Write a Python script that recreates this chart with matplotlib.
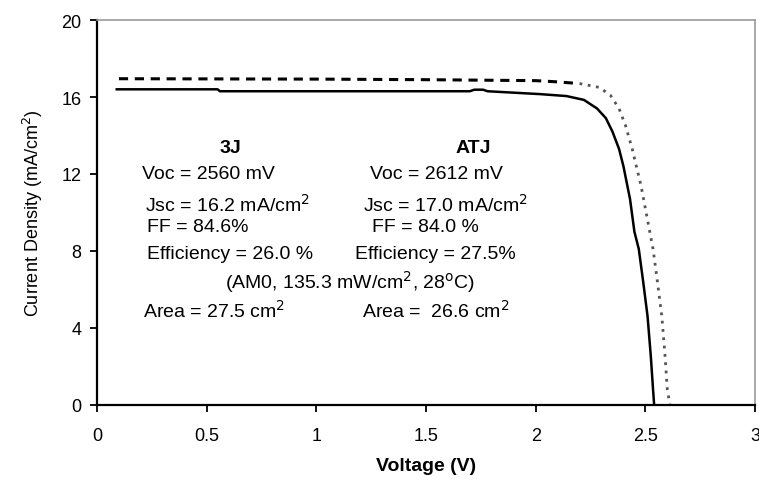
import matplotlib

matplotlib.use("Agg")
import matplotlib.pyplot as plt

plt.rcParams["font.family"] = ["Liberation Sans", "DejaVu Sans"]

# --- data ---
v_3j = [0.09, 0.55, 0.56, 1.70, 1.72, 1.76, 1.78, 2.02, 2.14, 2.22, 2.28, 2.32,
        2.35, 2.38, 2.40, 2.43, 2.45, 2.47, 2.49, 2.51, 2.525, 2.535, 2.54]
j_3j = [16.40, 16.40, 16.30, 16.30, 16.38, 16.38, 16.30, 16.15, 16.05, 15.85,
        15.40, 14.90, 14.20, 13.30, 12.40, 10.70, 9.00, 8.10, 6.40, 4.60, 2.50, 0.8, 0.0]

v_atj = [0.10, 1.00, 1.50, 2.00, 2.08, 2.20, 2.29, 2.34, 2.38, 2.41, 2.44, 2.48,
         2.52, 2.535, 2.555, 2.575, 2.59, 2.60, 2.612]
j_atj = [16.95, 16.93, 16.90, 16.85, 16.80, 16.70, 16.50, 16.10, 15.40, 14.50,
         13.30, 11.40, 9.00, 8.10, 6.40, 4.60, 2.50, 0.8, 0.0]

x_ticks = [0, 0.5, 1, 1.5, 2, 2.5, 3]
y_ticks = [0, 4, 8, 12, 16, 20]

rows_3j = ["Voc = 2560 mV", "Jsc = 16.2 mA/cm$^2$", "FF = 84.6%",
           "Efficiency = 26.0 %"]
rows_atj = ["Voc = 2612 mV", "Jsc = 17.0 mA/cm$^2$", "FF = 84.0 %",
            "Efficiency = 27.5%"]
condition = "(AM0, 135.3 mW/cm$^2$, 28$^{\\rm o}$C)"
area_3j = "Area = 27.5 cm$^2$"
area_atj = "Area =  26.6 cm$^2$"

fig = plt.figure(figsize=(7.59, 4.81), dpi=100)
ax = fig.add_axes([0.1278, 0.156, 0.867, 0.8003])

ax.plot(v_3j, j_3j, color="black", lw=1.8)

# ATJ: dashed on the plateau, dotted grey on the drop
knee = 5
ax.plot(v_atj[:knee + 1], j_atj[:knee + 1], color="black", lw=2.2,
        linestyle=(0, (3, 2.2)))
ax.plot(v_atj[knee:], j_atj[knee:], color="#555555", lw=2.0,
        linestyle=(0, (1, 2)))

ax.set_xlim(0, 3)
ax.set_ylim(0, 20)
ax.set_xticks(x_ticks)
ax.set_xticklabels(["0", "0.5", "1", "1.5", "2", "2.5", "3"])
ax.set_yticks(y_ticks)
ax.tick_params(direction="out", length=5, width=1.3, labelsize=13,
               colors="black")
ax.tick_params(axis="x", pad=11)
ax.tick_params(axis="y", pad=6)

for side in ["left", "bottom"]:
    ax.spines[side].set_linewidth(1.6)
    ax.spines[side].set_color("black")
for side in ["top", "right"]:
    ax.spines[side].set_linewidth(1.2)
    ax.spines[side].set_color("#999999")

ax.set_xlabel("Voltage (V)", fontsize=14, fontweight="bold", labelpad=9)
ax.set_ylabel("Current Density (mA/cm$^2$)", fontsize=13, labelpad=12)

# parameter block
fs = 14
ax.text(0.607, 13.4, "3J", fontsize=fs, fontweight="bold", ha="center", va="center")
ax.text(1.715, 13.4, "ATJ", fontsize=fs, fontweight="bold", ha="center", va="center")
ys = [12.0, 10.45, 9.25, 7.85]
x_left = [0.205, 0.219, 0.228, 0.228]
x_right = [1.245, 1.213, 1.254, 1.176]
for y, xl, xr, t3, ta in zip(ys, x_left, x_right, rows_3j, rows_atj):
    ax.text(xl, y, t3, fontsize=fs, va="center")
    ax.text(xr, y, ta, fontsize=fs, va="center")
ax.text(0.584, 6.45, condition, fontsize=fs, va="center")
ax.text(0.21, 4.95, area_3j, fontsize=fs, va="center")
ax.text(1.208, 4.95, area_atj, fontsize=fs, va="center")

fig.savefig("out.png", dpi=100)
